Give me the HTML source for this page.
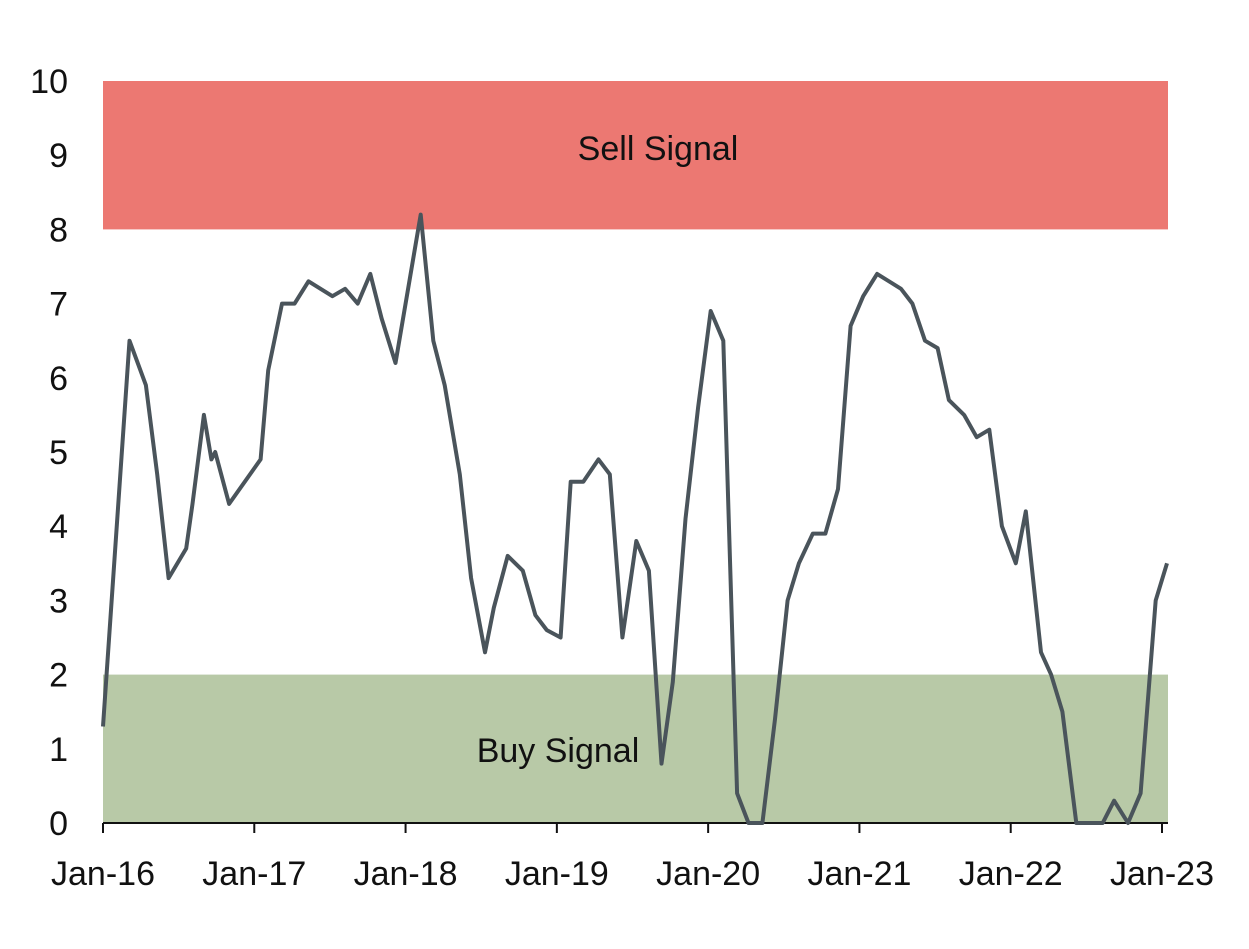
<!DOCTYPE html>
<html><head><meta charset="utf-8"><style>
html,body{margin:0;padding:0;background:#fff;}
svg{display:block;font-family:"Liberation Sans",Arial,sans-serif;}
</style></head><body>
<svg id="chart" width="1249" height="949" viewBox="0 0 1249 949"></svg>
<script>
const months = [0,2.1,3.4,4.3,5.2,6.6,7.1,8.0,8.6,8.9,10.0,12.5,13.1,14.2,15.2,16.3,18.2,19.2,20.2,21.2,22.1,23.2,25.2,26.2,27.1,28.3,29.2,30.3,31.0,32.1,33.3,34.3,35.2,36.3,37.1,38.1,39.3,40.2,41.2,42.3,43.3,44.3,45.2,46.2,47.2,48.2,49.2,50.3,51.2,52.3,53.3,54.3,55.2,56.3,57.3,58.3,59.3,60.3,61.4,63.3,64.2,65.2,66.2,67.1,68.3,69.3,70.3,71.3,72.4,73.2,74.4,75.2,76.1,77.2,79.3,80.2,81.3,82.3,83.5,84.4];
const values = [1.3,6.5,5.9,4.7,3.3,3.7,4.3,5.5,4.9,5.0,4.3,4.9,6.1,7.0,7.0,7.3,7.1,7.2,7.0,7.4,6.8,6.2,8.2,6.5,5.9,4.7,3.3,2.3,2.9,3.6,3.4,2.8,2.6,2.5,4.6,4.6,4.9,4.7,2.5,3.8,3.4,0.8,1.9,4.1,5.6,6.9,6.5,0.4,0,0,1.4,3.0,3.5,3.9,3.9,4.5,6.7,7.1,7.4,7.2,7.0,6.5,6.4,5.7,5.5,5.2,5.3,4.0,3.5,4.2,2.3,2.0,1.5,0,0,0.3,0,0.4,3.0,3.5];
const yTicks = [0,1,2,3,4,5,6,7,8,9,10];
const xTickLabels = ["Jan-16","Jan-17","Jan-18","Jan-19","Jan-20","Jan-21","Jan-22","Jan-23"];
const sellBand = [8,10];
const buyBand = [0,2];

const NS="http://www.w3.org/2000/svg";
const svg=document.getElementById('chart');
const x0=103,x1=1162,y0=823,y1=81;
const xs=m=>x0+(x1-x0)*m/84;
const ys=v=>y0-(y0-y1)*v/10;
function mk(t,a){const e=document.createElementNS(NS,t);for(const k in a)e.setAttribute(k,a[k]);svg.appendChild(e);return e;}

let r=mk('rect',{x:x0,y:ys(sellBand[1]),width:1168-x0,height:ys(sellBand[0])-ys(sellBand[1]),fill:'#ec7872'});


r=mk('rect',{x:x0,y:ys(buyBand[1]),width:1168-x0,height:ys(buyBand[0])-ys(buyBand[1]),fill:'#b8c9a7'});


let t=mk('text',{x:658,y:160,'font-size':34,'text-anchor':'middle',fill:'#111'});t.textContent='Sell Signal';


t=mk('text',{x:558,y:762,'font-size':34,'text-anchor':'middle',fill:'#111'});t.textContent='Buy Signal';



yTicks.forEach(v=>{const e=mk('text',{x:68,y:ys(v)+12,'font-size':34,'text-anchor':'end',fill:'#111'});e.textContent=v;

});

let ax=mk('line',{x1:x0,y1:y0,x2:1168,y2:y0,stroke:'#111','stroke-width':2});


xTickLabels.forEach((l,i)=>{const x=xs(i*12);
const tk=mk('line',{x1:x,y1:y0,x2:x,y2:y0+10,stroke:'#111','stroke-width':2});


const e=mk('text',{x:x,y:885,'font-size':34,'text-anchor':'middle',fill:'#111'});e.textContent=l;

});

const d=months.map((m,i)=>(i?'L':'M')+xs(m).toFixed(1)+' '+ys(values[i]).toFixed(1)).join(' ');
const p=mk('path',{d:d,fill:'none',stroke:'#4a545b','stroke-width':4,'stroke-linejoin':'round'});


</script>
</body></html>
